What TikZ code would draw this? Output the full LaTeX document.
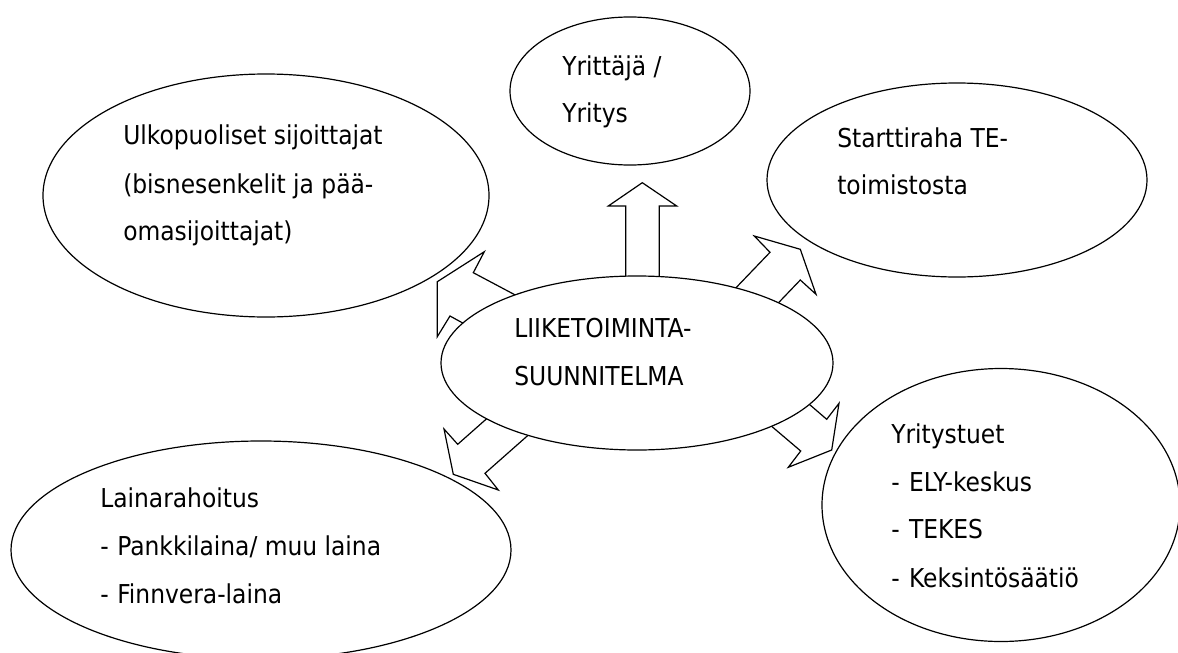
\documentclass[tikz,border=0pt]{standalone}
\usepackage{fontspec}
\setmainfont{DejaVu Sans Condensed}
\usetikzlibrary{shapes.geometric}
\tikzset{
  bubble/.style={ellipse, draw=black, fill=white, line width=0.9pt, inner sep=0pt},
  blockarrow/.style={draw=black, fill=white, line width=0.9pt, line join=miter},
  txt/.style={anchor=base west, inner sep=0pt, font=\fontsize{19.5}{24}\selectfont}
}
\begin{document}
\begin{tikzpicture}[x=0.75pt, y=-0.75pt]
\useasboundingbox (0,0) rectangle (1178,653);
\fill[white] (0,0) rectangle (1178,653);

% block arrows (tails hidden under the centre ellipse)
\draw[blockarrow] (536,306) -- (473.3,272.7) -- (484.3,251.7) -- (437.3,281.7) -- (437.3,336.7) -- (450,316) -- (483.6,334.5) -- cycle;
\draw[blockarrow] (715.6,309) -- (770,252.3) -- (754.3,236) -- (800.3,249.3) -- (816,294.3) -- (800.3,280) -- (758.9,323.2) -- cycle;
\draw[blockarrow] (508.6,399.3) -- (457.7,444.3) -- (444,429) -- (453.3,474.3) -- (498.3,490) -- (485,473.3) -- (551,415) -- cycle;
\draw[blockarrow] (783.2,381.8) -- (826.7,419.3) -- (839,403.3) -- (831.7,450) -- (788.3,467.3) -- (800.7,451) -- (745.6,404.2) -- cycle;
\draw[blockarrow] (625.7,300) -- (625.7,206) -- (608.3,206) -- (642.3,182.7) -- (676.7,206) -- (659.3,206) -- (659.3,300) -- cycle;

% ellipses
\node[bubble, minimum width=334.5pt, minimum height=182.25pt] (ulko) at (266,195.5) {};
\node[bubble, minimum width=180pt, minimum height=111pt] (yrit) at (630,91) {};
\node[bubble, minimum width=285pt, minimum height=145.5pt] (start) at (957,180) {};
\node[bubble, minimum width=294pt, minimum height=130.5pt] (liike) at (637,363) {};
\node[bubble, minimum width=375pt, minimum height=163.5pt] (laina) at (261,550) {};
\node[bubble, minimum width=268.5pt, minimum height=204.75pt] (tuet) at (1001,505) {};

% texts
\node[txt] (u1) at (123,144) {Ulkopuoliset sijoittajat};
\node[txt] (u2) at (123,193) {(bisnesenkelit ja pää-};
\node[txt] (u3) at (123,240) {omasijoittajat)};

\node[txt] (y1) at (562,75) {Yrittäjä /};
\node[txt] (y2) at (562,122) {Yritys};

\node[txt] (s1) at (837,147) {Starttiraha TE-};
\node[txt] (s2) at (837,194.5) {toimistosta};

\node[txt] (l1) at (514,337) {LIIKETOIMINTA-};
\node[txt] (l2) at (514,385) {SUUNNITELMA};

\node[txt] (r1) at (100,507) {Lainarahoitus};
\node[txt] (r2) at (100,555) {-\hspace{6.5pt}Pankkilaina/ muu laina};
\node[txt] (r3) at (100,603) {-\hspace{6.5pt}Finnvera-laina};

\node[txt] (t1) at (891,443) {Yritystuet};
\node[txt] (t2) at (891,491) {-\hspace{7pt}ELY-keskus};
\node[txt] (t3) at (891,538) {-\hspace{7pt}TEKES};
\node[txt] (t4) at (891,587) {-\hspace{7pt}Keksintösäätiö};
\end{tikzpicture}
\end{document}
